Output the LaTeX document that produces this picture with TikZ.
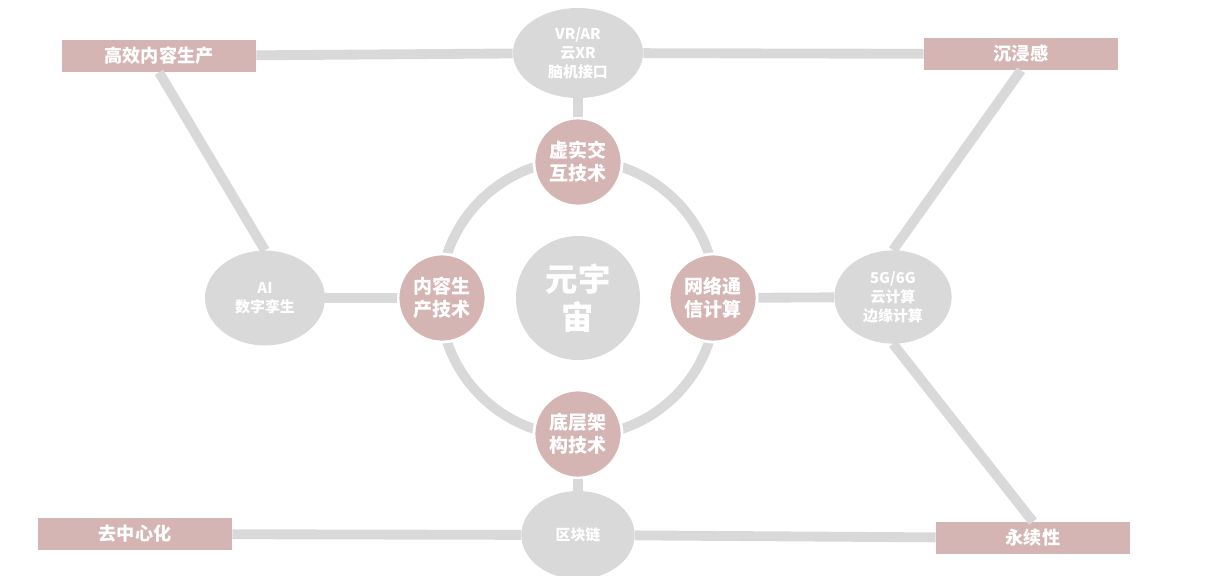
\documentclass[tikz,border=0pt]{standalone}
\usepackage{fontspec}
\setmainfont{Noto Sans CJK SC}
\usetikzlibrary{shapes.geometric, positioning}
\definecolor{cGray}{RGB}{217,217,217}
\definecolor{cPink}{RGB}{213,181,179}
\tikzset{
	core/.style ={circle, fill=cGray, minimum size=3.1cm, inner sep=0pt, text=white, align=center, font=\fontsize{23}{27}\selectfont\bfseries},
	tech/.style ={circle, fill=cPink, draw=white, line width=2pt, minimum size=2.2cm, inner sep=0pt, text=white, align=center, font=\fontsize{13.5}{16.5}\selectfont\bfseries},
	field/.style={ellipse, fill=cGray, inner sep=0pt, text=white, align=center, font=\fontsize{10.6}{13.5}\selectfont\bfseries},
	goal/.style ={rectangle, fill=cPink, minimum width=4.85cm, minimum height=0.8cm, inner sep=0pt, text=white, font=\fontsize{12.9}{15}\selectfont\bfseries},
	link/.style ={line width=7pt, cGray},
}
\begin{document}
\begin{tikzpicture}[x=0.025cm, y=-0.025cm]
	\useasboundingbox (0,0) rectangle (1214,575);
	% ring behind the technologies
	\coordinate (mid) at (578,298);
	\draw[link] (mid) circle[radius=3.45cm];
	% centre and technologies
	\node[core] (meta) at (mid) {元宇\\宙};
	\node[tech] (xr)    at (578,162) {虚实交\\互技术};
	\node[tech] (cont)  at (442,298) {内容生\\产技术};
	\node[tech] (net)   at (713,298) {网络通\\信计算};
	\node[tech] (infra) at (578,434) {底层架\\构技术};
	% fields
	\node[field, minimum width=3.25cm, minimum height=2.25cm] (vr)    at (578,53)  {VR/AR\\云XR\\脑机接口};
	\node[field, minimum width=3.0cm,  minimum height=2.37cm] (ai)    at (265,298) {AI\\数字孪生};
	\node[field, minimum width=2.93cm, minimum height=2.33cm] (fiveg) at (893,297) {5G/6G\\云计算\\边缘计算};
	\node[field, minimum width=2.83cm, minimum height=2.2cm]  (chain) at (578,535) {区块链};
	% goals
	\node[goal] (effi)  at (159,56)  {高效内容生产};
	\node[goal] (immer) at (1021,54) {沉浸感};
	\node[goal] (decen) at (135,534) {去中心化};
	\node[goal] (sust)  at (1033,538) {永续性};
	% connectors
	\draw[link] (vr) -- (xr);
	\draw[link] (ai) -- (cont);
	\draw[link] (net) -- (fiveg);
	\draw[link] (infra) -- (chain);
	\draw[link] (effi) -- (vr);
	\draw[link] (vr) -- (immer);
	\draw[link] (effi.south) -- (ai.north);
	\draw[link] (immer.south) -- (fiveg.north);
	\draw[link] (fiveg.south) -- (sust.north);
	\draw[link] (decen) -- (chain);
	\draw[link] (chain) -- (sust);
\end{tikzpicture}
\end{document}
